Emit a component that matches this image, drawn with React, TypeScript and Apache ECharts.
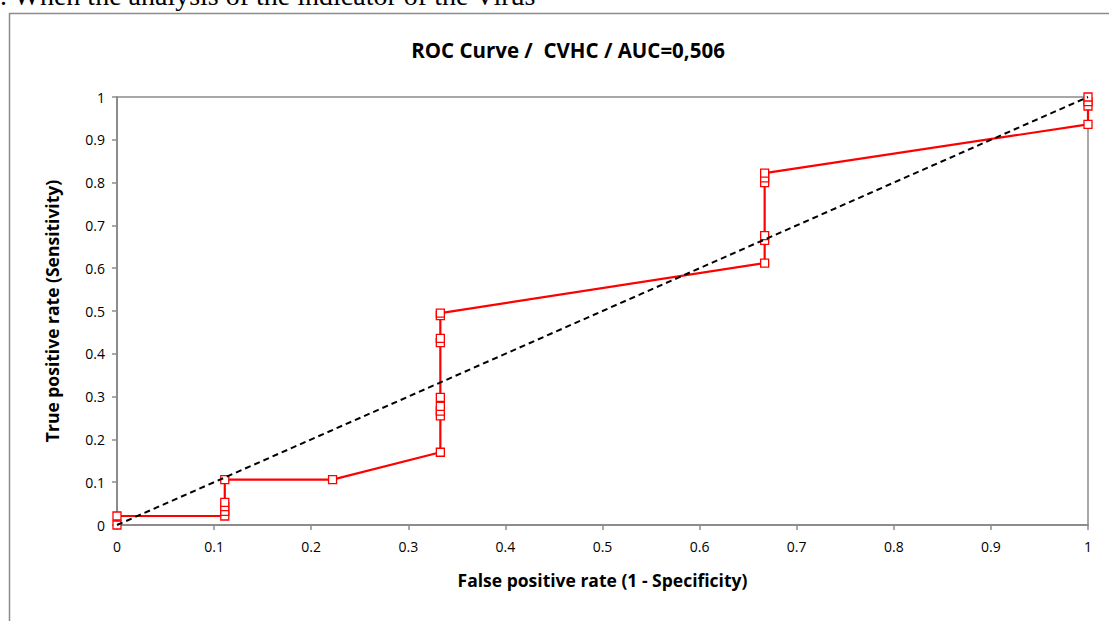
import React, { useEffect, useRef } from "react";
import * as echarts from "echarts";

const titleText = "ROC Curve /  CVHC / AUC=0,506";
const xAxisName = "False positive rate (1 - Specificity)";
const yAxisName = "True positive rate (Sensitivity)";
const captionText = ". When the analysis of the indicator of the Virus";

const rocFpr = [0, 0, 0.111, 0.111, 0.111, 0.111, 0.111, 0.222, 0.333, 0.333, 0.333, 0.333, 0.333, 0.333, 0.333, 0.333, 0.333, 0.667, 0.667, 0.667, 0.667, 0.667, 0.667, 1, 1, 1, 1];
const rocTpr = [0, 0.021, 0.021, 0.032, 0.043, 0.053, 0.106, 0.106, 0.17, 0.255, 0.266, 0.277, 0.298, 0.426, 0.436, 0.489, 0.495, 0.612, 0.665, 0.676, 0.8, 0.811, 0.822, 0.936, 0.979, 0.989, 1];
const diagX = [0, 1];
const diagY = [0, 1];

const FONT = "Open Sans";

export default function App() {
  const ref = useRef<HTMLDivElement>(null);
  useEffect(() => {
    if (!ref.current) return;
    const chart = echarts.init(ref.current, null, { renderer: "svg" });
    const roc = rocFpr.map((x, i) => [x, rocTpr[i]]);
    const diag = diagX.map((x, i) => [x, diagY[i]]);
    const fmt = (v: number) => String(Math.round(v * 10) / 10);
    chart.setOption({
      animation: false,
      backgroundColor: "#ffffff",
      title: {
        text: titleText,
        left: 563,
        top: 34,
        textAlign: "center",
        textStyle: { fontFamily: FONT, fontWeight: "bold", fontSize: 20.5, color: "#000" },
      },
      graphic: [
        {
          type: "rect",
          shape: { x: 9.5, y: 13.5, width: 1120, height: 640 },
          style: { fill: "none", stroke: "#8c8c8c", lineWidth: 1.5 },
          silent: true,
        },
        {
          type: "text",
          x: 0,
          y: 9,
          style: {
            text: captionText,
            fontFamily: "Liberation Serif",
            fontSize: 28,
            fill: "#000",
            textVerticalAlign: "bottom",
          },
          silent: true,
        },
      ],
      grid: {
        left: 117,
        right: 21,
        top: 97,
        bottom: 96,
        show: true,
        borderColor: "#8c8c8c",
        borderWidth: 1.5,
        backgroundColor: "transparent",
      },
      xAxis: {
        type: "value",
        min: 0,
        max: 1,
        interval: 0.1,
        name: xAxisName,
        nameLocation: "middle",
        nameGap: 46,
        nameTextStyle: { fontFamily: FONT, fontWeight: "bold", fontSize: 17.5, color: "#000" },
        axisLine: { show: true, lineStyle: { color: "#8c8c8c", width: 2 } },
        axisTick: { show: true, length: 5, lineStyle: { color: "#8c8c8c", width: 1.5 } },
        axisLabel: { fontFamily: FONT, fontSize: 14, color: "#000", margin: 14, formatter: fmt },
        splitLine: { show: false },
      },
      yAxis: {
        type: "value",
        min: 0,
        max: 1,
        interval: 0.1,
        name: yAxisName,
        nameLocation: "middle",
        nameGap: 56,
        nameTextStyle: { fontFamily: FONT, fontWeight: "bold", fontSize: 17.5, color: "#000" },
        axisLine: { show: true, lineStyle: { color: "#8c8c8c", width: 2 } },
        axisTick: { show: true, length: 5, lineStyle: { color: "#8c8c8c", width: 1.5 } },
        axisLabel: { fontFamily: FONT, fontSize: 14, color: "#000", margin: 12, formatter: fmt },
        splitLine: { show: false },
      },
      series: [
        {
          type: "line",
          data: roc,
          symbol: "rect",
          symbolSize: 8,
          showAllSymbol: true,
          lineStyle: { color: "#ff0000", width: 2.2 },
          itemStyle: { color: "#ffffff", borderColor: "#ff0000", borderWidth: 1.3 },
          z: 3,
        },
        {
          type: "line",
          data: diag,
          symbol: "none",
          lineStyle: { color: "#000000", width: 2, type: [6, 4] },
          z: 4,
        },
      ],
    });
    return () => chart.dispose();
  }, []);
  return (
    <div
      ref={ref}
      style={{ position: "absolute", left: 0, top: 0, width: 1109, height: 621, overflow: "hidden" }}
    />
  );
}
